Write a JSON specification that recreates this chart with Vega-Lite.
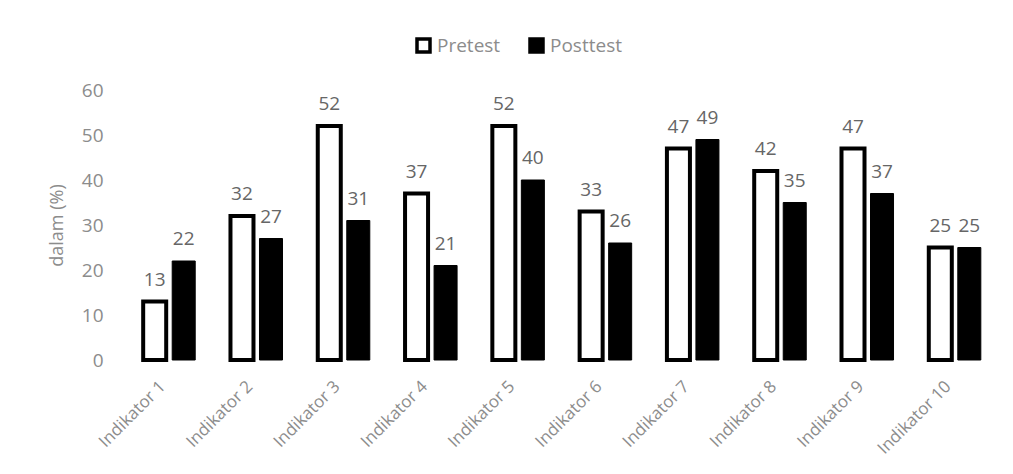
{
  "$schema": "https://vega.github.io/schema/vega-lite/v6.json",
  "width": 890,
  "height": 270,
  "padding": {"left": 48, "top": 36, "right": 5, "bottom": 5},
  "background": "white",
  "config": {
    "view": {"stroke": null},
    "font": "Open Sans",
    "axis": {"labelColor": "#8c8c8c", "titleColor": "#8c8c8c", "labelFont": "Open Sans", "titleFont": "Open Sans"}
  },
  "data": {
    "values": [
      {"indikator": "Indikator 1", "tes": "Pretest", "nilai": 13},
      {"indikator": "Indikator 1", "tes": "Posttest", "nilai": 22},
      {"indikator": "Indikator 2", "tes": "Pretest", "nilai": 32},
      {"indikator": "Indikator 2", "tes": "Posttest", "nilai": 27},
      {"indikator": "Indikator 3", "tes": "Pretest", "nilai": 52},
      {"indikator": "Indikator 3", "tes": "Posttest", "nilai": 31},
      {"indikator": "Indikator 4", "tes": "Pretest", "nilai": 37},
      {"indikator": "Indikator 4", "tes": "Posttest", "nilai": 21},
      {"indikator": "Indikator 5", "tes": "Pretest", "nilai": 52},
      {"indikator": "Indikator 5", "tes": "Posttest", "nilai": 40},
      {"indikator": "Indikator 6", "tes": "Pretest", "nilai": 33},
      {"indikator": "Indikator 6", "tes": "Posttest", "nilai": 26},
      {"indikator": "Indikator 7", "tes": "Pretest", "nilai": 47},
      {"indikator": "Indikator 7", "tes": "Posttest", "nilai": 49},
      {"indikator": "Indikator 8", "tes": "Pretest", "nilai": 42},
      {"indikator": "Indikator 8", "tes": "Posttest", "nilai": 35},
      {"indikator": "Indikator 9", "tes": "Pretest", "nilai": 47},
      {"indikator": "Indikator 9", "tes": "Posttest", "nilai": 37},
      {"indikator": "Indikator 10", "tes": "Pretest", "nilai": 25},
      {"indikator": "Indikator 10", "tes": "Posttest", "nilai": 25}
    ]
  },
  "encoding": {
    "x": {
      "field": "indikator", "type": "nominal", "sort": null,
      "scale": {"paddingInner": 0.404, "paddingOuter": 0.3},
      "axis": {"title": null, "labelAngle": -45, "labelFontSize": 17, "domain": false, "ticks": false, "labelPadding": 18, "labelOffset": -12}
    },
    "xOffset": {"field": "tes", "type": "nominal", "sort": ["Pretest", "Posttest"], "scale": {"paddingInner": 0.207}},
    "y": {
      "field": "nilai", "type": "quantitative",
      "scale": {"domain": [0, 60]},
      "axis": {"title": "dalam (%)", "titleFontSize": 18, "titleFontWeight": "normal", "labelFontSize": 19, "values": [0,10,20,30,40,50,60], "grid": false, "domain": false, "ticks": false, "labelPadding": 14, "titlePadding": 15}
    }
  },
  "layer": [
    {
      "mark": {"type": "bar", "stroke": "black"},
      "encoding": {
        "fill": {
          "field": "tes", "type": "nominal", "sort": ["Pretest", "Posttest"],
          "scale": {"domain": ["Pretest", "Posttest"], "range": ["white", "black"]},
          "legend": {
            "title": null, "orient": "none", "direction": "horizontal",
            "legendX": 297, "legendY": -54,
            "labelFontSize": 19, "labelColor": "#8c8c8c", "symbolType": "square",
            "symbolSize": 169, "symbolStrokeWidth": 3.5, "symbolStrokeColor": "black",
            "columnPadding": 22, "labelOffset": 4
          }
        },
        "strokeWidth": {
          "condition": {"test": "datum.tes === 'Pretest'", "value": 4},
          "value": 1
        }
      }
    },
    {
      "mark": {"type": "text", "dy": -16, "fontSize": 19, "color": "#666666", "baseline": "alphabetic"},
      "encoding": {"text": {"field": "nilai", "type": "quantitative"}}
    }
  ]
}
